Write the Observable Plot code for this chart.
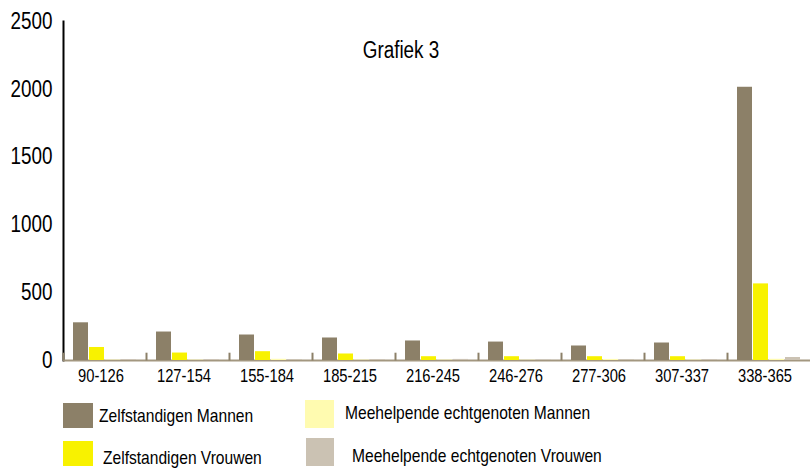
<!DOCTYPE html>
<html>
<head>
<meta charset="utf-8">
<script src="https://cdn.jsdelivr.net/npm/d3@7"></script>
<script src="https://cdn.jsdelivr.net/npm/@observablehq/plot@0.6"></script>
<style>
  html, body { margin: 0; padding: 0; background: #fff; }
  #wrap { position: relative; width: 810px; height: 471px; overflow: hidden;
    font-family: "Liberation Sans", Arial, sans-serif; color: #000; }
  #chart { position: absolute; left: 0; top: 0; }
  #title { position: absolute; left: 401px; top: 37px; transform: translateX(-50%) scaleX(0.82); transform-origin: center; font-size: 23px; white-space: nowrap; }
  .leg { position: absolute; display: flex; align-items: center; font-size: 19px; white-space: nowrap; }
  .sw { display: inline-block; }
  .lt { display: inline-block; transform: scaleX(0.82); transform-origin: left center; }
  #chart svg g[aria-label="y-axis tick label"] text { font-size: 23px; }
  #chart svg g[aria-label="fx-axis tick label"] text { font-size: 18px; }
</style>
</head>
<body>
<div id="wrap">
  <div id="chart"></div>
  <div id="title"></div>
</div>
<script>
const titleText = "Grafiek 3";
const groups = ["90-126", "127-154", "155-184", "185-215", "216-245", "246-276", "277-306", "307-337", "338-365"];
const series = ["Zelfstandigen Mannen", "Zelfstandigen Vrouwen", "Meehelpende echtgenoten Mannen", "Meehelpende echtgenoten Vrouwen"];
const zelfMannen = [278, 210, 188, 166, 144, 136, 107, 129, 2015];
const zelfVrouwen = [96, 55, 65, 48, 28, 28, 28, 28, 565];
const meeMannen = [3, 3, 9, 3, 3, 2, 8, 3, 9];
const meeVrouwen = [6, 6, 7, 6, 8, 3, 7, 6, 22];
const yTicks = [0, 500, 1000, 1500, 2000, 2500];
const colors = ["#8c8068", "#f8f200", "#fffbb0", "#cbc2b3"];

const FONT = '"Liberation Sans", Arial, sans-serif';
const NARROW = 0.82;

const valuesBySeries = [zelfMannen, zelfVrouwen, meeMannen, meeVrouwen];
const data = [];
groups.forEach((g, i) => {
  series.forEach((s, j) => data.push({group: g, series: s, value: valuesBySeries[j][i]}));
});

const tickSymbol = {
  draw(ctx, size) {
    const h = Math.sqrt(size);
    ctx.moveTo(0, 0);
    ctx.lineTo(0, -h);
  }
};

const plot = Plot.plot({
  width: 810,
  height: 392,
  marginLeft: 63,
  marginRight: 0,
  marginTop: 21,
  marginBottom: 32,
  style: {fontFamily: FONT, background: "transparent", color: "#000"},
  fx: {domain: groups, padding: 0, label: null, tickSize: 0, tickPadding: 9},
  x: {domain: series, axis: null, paddingInner: 0.06, paddingOuter: 0.57},
  y: {domain: [0, 2500], ticks: yTicks, tickFormat: d3.format("d"), tickSize: 0, tickPadding: 11, label: null, line: true},
  color: {domain: series, range: colors},
  marks: [
    Plot.ruleY([0], {stroke: "#a39780", strokeWidth: 2}),
    Plot.barY(data, {fx: "group", x: "series", y: "value", fill: "series"}),
    Plot.dot(groups, {fx: d => d, frameAnchor: "bottom-left", symbol: tickSymbol, r: 4.4, stroke: "#8c8068", strokeWidth: 2, fill: "none"})
  ]
});

// narrow the axis texts (condensed look)
d3.select(plot).selectAll("text").each(function () {
  const el = d3.select(this);
  const x = +el.attr("x") || 0;
  const t = el.attr("transform") || "";
  const isFx = this.closest('[aria-label="fx-axis tick label"]') !== null;
  const shift = isFx ? -4 : 0;
  el.attr("transform", `${t} translate(${x + shift},0) scale(${NARROW},1) translate(${-x},0)`);
});

document.getElementById("chart").appendChild(plot);
document.getElementById("title").textContent = titleText;

// y-axis line (drawn by Plot as a left frame): black, 2px
d3.select(plot).selectAll('[aria-label="frame"], [aria-label="frame"] *')
  .attr("stroke-width", 2).attr("stroke", "#000")
  .style("stroke-width", "2px").style("stroke", "#000");

// legend
const wrap = document.getElementById("wrap");
const legPos = [
  {left: 63, top: 403, w: 30, h: 25, gap: 6, dy: 0},
  {left: 63, top: 441, w: 30, h: 25, gap: 10, dy: 4},
  {left: 305, top: 400, w: 29, h: 28, gap: 11, dy: -1},
  {left: 306, top: 438, w: 28, h: 28, gap: 18, dy: 4}
];
series.forEach((s, j) => {
  const p = legPos[j];
  const item = document.createElement("div");
  item.className = "leg";
  item.style.left = p.left + "px";
  item.style.top = p.top + "px";
  const sw = document.createElement("span");
  sw.className = "sw";
  sw.style.width = p.w + "px";
  sw.style.height = p.h + "px";
  sw.style.background = colors[j];
  const t = document.createElement("span");
  t.className = "lt";
  t.textContent = s;
  t.style.marginLeft = p.gap + "px";
  t.style.position = "relative";
  t.style.top = p.dy + "px";
  item.appendChild(sw);
  item.appendChild(t);
  wrap.appendChild(item);
});
</script>
</body>
</html>
